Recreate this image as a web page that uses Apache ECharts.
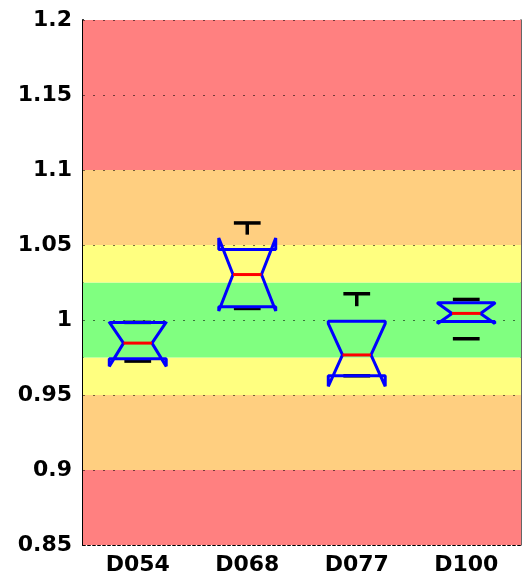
<!DOCTYPE html>
<html>
<head>
<meta charset="utf-8">
<script src="https://cdn.jsdelivr.net/npm/echarts@6/dist/echarts.min.js"></script>
<style>
html,body{margin:0;padding:0;background:#fff;}
#chart{width:525px;height:584px;}
</style>
</head>
<body>
<div id="chart"></div>
<script>
// ---- data ----
var categories = ['D054', 'D068', 'D077', 'D100'];
var q1 =        [0.9742, 1.0088, 0.9628, 0.9990];
var q3 =        [0.9984, 1.0470, 0.9992, 1.0115];
var medians =   [0.9846, 1.0303, 0.9767, 1.0044];
var notchLow =  [0.9691, 1.0060, 0.9558, 0.9977];
var notchHigh = [0.9986, 1.0546, 0.9976, 1.0111];
var whiskerLow =  [0.9726, 1.0077, 0.9628, 0.9875];
var whiskerHigh = [0.9984, 1.0647, 1.0175, 1.0137];
// visible end of the upper whisker stem (null = no stem visible)
var stemHigh = [null, 1.0569, 1.0092, null];
var yTicks = [0.85, 0.9, 0.95, 1, 1.05, 1.1, 1.15, 1.2];
var bandLow =  [0.85, 0.9, 0.95, 0.975, 1.025, 1.05, 1.1];
var bandHigh = [0.9, 0.95, 0.975, 1.025, 1.05, 1.1, 1.2];
var bandColors = ['#FF8080', '#FFCF80', '#FFFF80', '#80FF80', '#FFFF80', '#FFCF80', '#FF8080'];

var chart = echarts.init(document.getElementById('chart'));

var bandData = bandLow.map(function (lo, i) { return [lo, bandHigh[i], i]; });
var gridData = yTicks.slice(1).map(function (t) { return [t]; });
var boxData = categories.map(function (c, i) {
  return [i, q1[i], q3[i], medians[i], notchLow[i], notchHigh[i], whiskerLow[i], whiskerHigh[i], stemHigh[i] == null ? NaN : stemHigh[i]];
});

var font = '"DejaVu Sans", "Liberation Sans", sans-serif';

var option = {
  animation: false,
  grid: { left: 83, right: 4, top: 20, bottom: 39, containLabel: false },
  xAxis: {
    type: 'category',
    data: categories,
    boundaryGap: true,
    axisLine: { show: true, lineStyle: { color: '#000', width: 2, type: [2, 3] } },
    axisTick: { show: false },
    splitLine: { show: false },
    axisLabel: { color: '#000', fontSize: 22, fontWeight: 'bold', fontFamily: font, margin: 9 }
  },
  yAxis: [{
    type: 'value',
    min: 0.85, max: 1.2, interval: 0.05,
    axisLine: { show: true, lineStyle: { color: '#000', width: 2 } },
    axisTick: { show: false },
    splitLine: { show: false },
    axisLabel: {
      color: '#000', fontSize: 22, fontWeight: 'bold', fontFamily: font, margin: 11,
      formatter: function (v) { return String(+v.toFixed(2)); }
    }
  }, {
    type: 'value', position: 'right',
    min: 0.85, max: 1.2, interval: 0.05,
    axisLine: { show: true, lineStyle: { color: '#333', width: 1.5 } },
    axisTick: { show: false }, axisLabel: { show: false }, splitLine: { show: false }
  }],
  series: [
    {
      type: 'custom', z: 1, silent: true,
      data: bandData,
      renderItem: function (params, api) {
        var cs = params.coordSys;
        var yTop = api.coord([0, api.value(1)])[1];
        var yBot = api.coord([0, api.value(0)])[1];
        return {
          type: 'rect',
          shape: { x: cs.x, y: yTop, width: cs.width, height: yBot - yTop },
          style: { fill: bandColors[api.value(2)] }
        };
      }
    },
    {
      type: 'custom', z: 2, silent: true,
      data: gridData,
      renderItem: function (params, api) {
        var cs = params.coordSys;
        var y = Math.round(api.coord([0, api.value(0)])[1]) + 0.5;
        return {
          type: 'line',
          shape: { x1: cs.x, y1: y, x2: cs.x + cs.width, y2: y },
          style: { stroke: 'rgba(0,0,0,0.55)', lineWidth: 1.2, lineDash: [2, 8] }
        };
      }
    },
    {
      type: 'custom', z: 3, silent: true,
      data: boxData,
      encode: { x: 0, y: [1, 2, 3, 4, 5, 6, 7] },
      renderItem: function (params, api) {
        var idx = api.value(0);
        var x = api.coord([idx, 1])[0];
        var bw = api.size([1, 0])[0];
        var w = bw * 0.26;
        var wc = w * 0.47;
        function Y(v) { return api.coord([idx, v])[1]; }
        var yq1 = Y(api.value(1)), yq3 = Y(api.value(2)), ym = Y(api.value(3));
        var ynl = Y(api.value(4)), ynh = Y(api.value(5));
        var ywl = Y(api.value(6)), ywh = Y(api.value(7));
        var sh = api.value(8);
        var children = [];
        var black = { stroke: '#000', lineWidth: 3.5 };
        if (!isNaN(sh)) {
          children.push({ type: 'line', shape: { x1: x, y1: ywh, x2: x, y2: Y(sh) }, style: black });
        }
        children.push({ type: 'line', shape: { x1: x - wc, y1: ywh, x2: x + wc, y2: ywh }, style: black });
        children.push({ type: 'line', shape: { x1: x - wc, y1: ywl, x2: x + wc, y2: ywl }, style: black });
        var pts = [
          [x - w, yq1], [x - w, ynl], [x - w / 2, ym], [x - w, ynh], [x - w, yq3],
          [x + w, yq3], [x + w, ynh], [x + w / 2, ym], [x + w, ynl], [x + w, yq1]
        ];
        children.push({
          type: 'polygon', shape: { points: pts },
          style: { fill: 'none', stroke: '#0000FF', lineWidth: 3, lineJoin: 'bevel' }
        });
        children.push({
          type: 'line', shape: { x1: x - w / 2, y1: ym, x2: x + w / 2, y2: ym },
          style: { stroke: '#FF0000', lineWidth: 3 }
        });
        return { type: 'group', children: children };
      }
    }
  ]
};
chart.setOption(option);
</script>
</body>
</html>
